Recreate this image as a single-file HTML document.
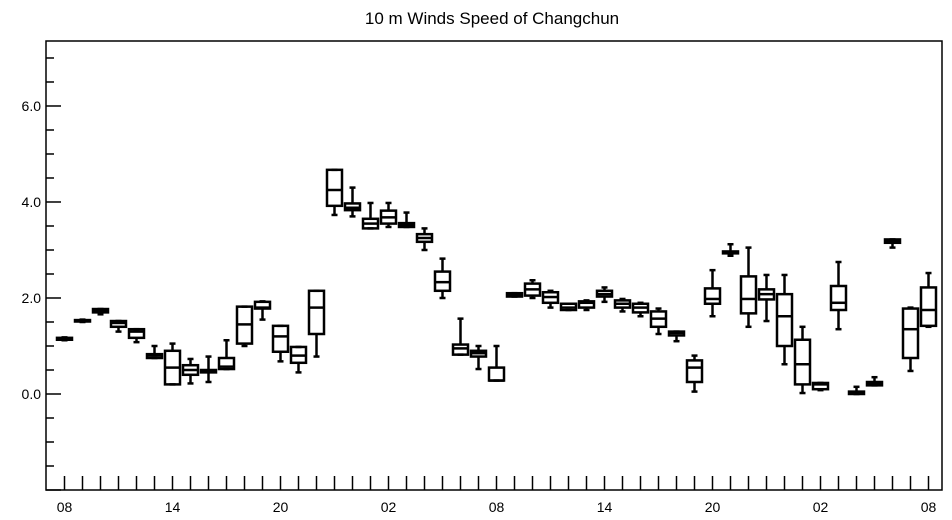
<!DOCTYPE html>
<html><head><meta charset="utf-8"><style>
body{margin:0;background:#fff;}
svg{display:block;font-family:"Liberation Sans",Arial,sans-serif;}
</style></head><body>
<svg id="chart" width="952" height="520">
<text x="492" y="24" text-anchor="middle" font-size="17">10 m Winds Speed of Changchun</text>
<g id="axes"></g><g id="boxes"></g>
</svg>
<script>
const xLabels = ["08","14","20","02","08","14","20","02","08"];
const yTickLabels = ["0.0","2.0","4.0","6.0"];
const yTickValues = [0,2,4,6];
const wMin = [1.12,1.50,1.66,1.30,1.08,0.75,0.20,0.22,0.25,0.52,1.00,1.55,0.68,0.45,0.78,3.73,3.70,3.45,3.48,3.48,3.00,2.00,0.82,0.52,0.28,2.03,2.00,1.80,1.75,1.75,1.92,1.72,1.62,1.25,1.10,0.05,1.62,2.88,1.40,1.52,0.62,0.02,0.08,1.35,0.00,0.18,3.05,0.48,1.40];
const q1   = [1.13,1.51,1.70,1.40,1.17,0.75,0.20,0.40,0.45,0.52,1.05,1.78,0.88,0.65,1.25,3.92,3.83,3.45,3.55,3.48,3.17,2.15,0.82,0.78,0.28,2.03,2.05,1.90,1.75,1.80,2.03,1.80,1.70,1.40,1.22,0.25,1.88,2.93,1.68,1.97,1.00,0.20,0.10,1.75,0.00,0.18,3.15,0.75,1.42];
const med  = [1.15,1.52,1.73,1.48,1.30,0.80,0.55,0.50,0.48,0.57,1.45,1.80,1.20,0.80,1.80,4.25,3.88,3.55,3.68,3.52,3.25,2.33,0.95,0.85,0.28,2.07,2.18,2.02,1.80,1.90,2.08,1.88,1.80,1.57,1.27,0.55,1.98,2.95,1.98,2.08,1.62,0.62,0.20,1.90,0.03,0.22,3.18,1.35,1.75];
const q3   = [1.17,1.54,1.77,1.52,1.35,0.83,0.90,0.60,0.50,0.75,1.82,1.92,1.42,0.98,2.15,4.67,3.97,3.65,3.82,3.56,3.33,2.55,1.03,0.90,0.55,2.10,2.30,2.12,1.88,1.93,2.15,1.95,1.88,1.72,1.30,0.70,2.20,2.97,2.45,2.18,2.08,1.13,0.23,2.25,0.05,0.25,3.22,1.78,2.22];
const wMax = [1.18,1.55,1.77,1.52,1.35,1.00,1.05,0.73,0.78,1.12,1.82,1.93,1.42,0.98,2.15,4.67,4.30,3.98,3.98,3.78,3.45,2.82,1.57,1.00,1.00,2.10,2.37,2.15,1.88,1.95,2.22,1.98,1.90,1.78,1.30,0.80,2.58,3.12,3.05,2.48,2.48,1.40,0.23,2.75,0.15,0.35,3.22,1.80,2.52];

const L=46,R=942,T=41,B=490;
const yMin=-2,yMax=7.354;
function y(v){return B-(v-yMin)/(yMax-yMin)*(B-T);}
function x(i){return 64.5+i*18.0;}
const NS="http://www.w3.org/2000/svg";
function mk(tag,attrs,parent){const e=document.createElementNS(NS,tag);for(const k in attrs)e.setAttribute(k,attrs[k]);parent.appendChild(e);return e;}
const ax=document.getElementById('axes'), bx=document.getElementById('boxes');
const frame=mk('rect',{x:L,y:T,width:R-L,height:B-T,fill:'none',stroke:'#000','stroke-width':1.5},ax);


for(let v=-2;v<=7.3;v+=0.5){
  const major=Math.abs(v/2-Math.round(v/2))<1e-6;
  const t=mk('line',{x1:L,x2:L+(major?15:8),y1:y(v),y2:y(v),stroke:'#000','stroke-width':1.5},ax);
  
  
}
yTickValues.forEach((v,k)=>{
  const t=mk('text',{x:L-5,y:y(v)+5,'text-anchor':'end','font-size':14},ax);
  t.textContent=yTickLabels[k];
  
  
});
const n=med.length;
for(let i=0;i<n;i++){
  const t=mk('line',{x1:x(i),x2:x(i),y1:B,y2:B-14,stroke:'#000','stroke-width':1.5},ax);
  
  
}
xLabels.forEach((s,k)=>{
  const t=mk('text',{x:x(k*6),y:512,'text-anchor':'middle','font-size':14},ax);
  t.textContent=s;
  
  
});
const hw=7.5, cw=3;
for(let i=0;i<n;i++){
  const g=mk('g',{stroke:'#000','stroke-width':2.5,fill:'none'},bx);
  
  
  const cx=x(i);
  mk('line',{x1:cx,x2:cx,y1:y(wMax[i]),y2:y(q3[i])},g);
  mk('line',{x1:cx,x2:cx,y1:y(q1[i]),y2:y(wMin[i])},g);
  mk('line',{x1:cx-cw,x2:cx+cw,y1:y(wMax[i]),y2:y(wMax[i])},g);
  mk('line',{x1:cx-cw,x2:cx+cw,y1:y(wMin[i]),y2:y(wMin[i])},g);
  mk('rect',{x:cx-hw,y:y(q3[i]),width:2*hw,height:Math.max(0.5,y(q1[i])-y(q3[i]))},g);
  mk('line',{x1:cx-hw,x2:cx+hw,y1:y(med[i]),y2:y(med[i])},g);
}
</script>
</body></html>
